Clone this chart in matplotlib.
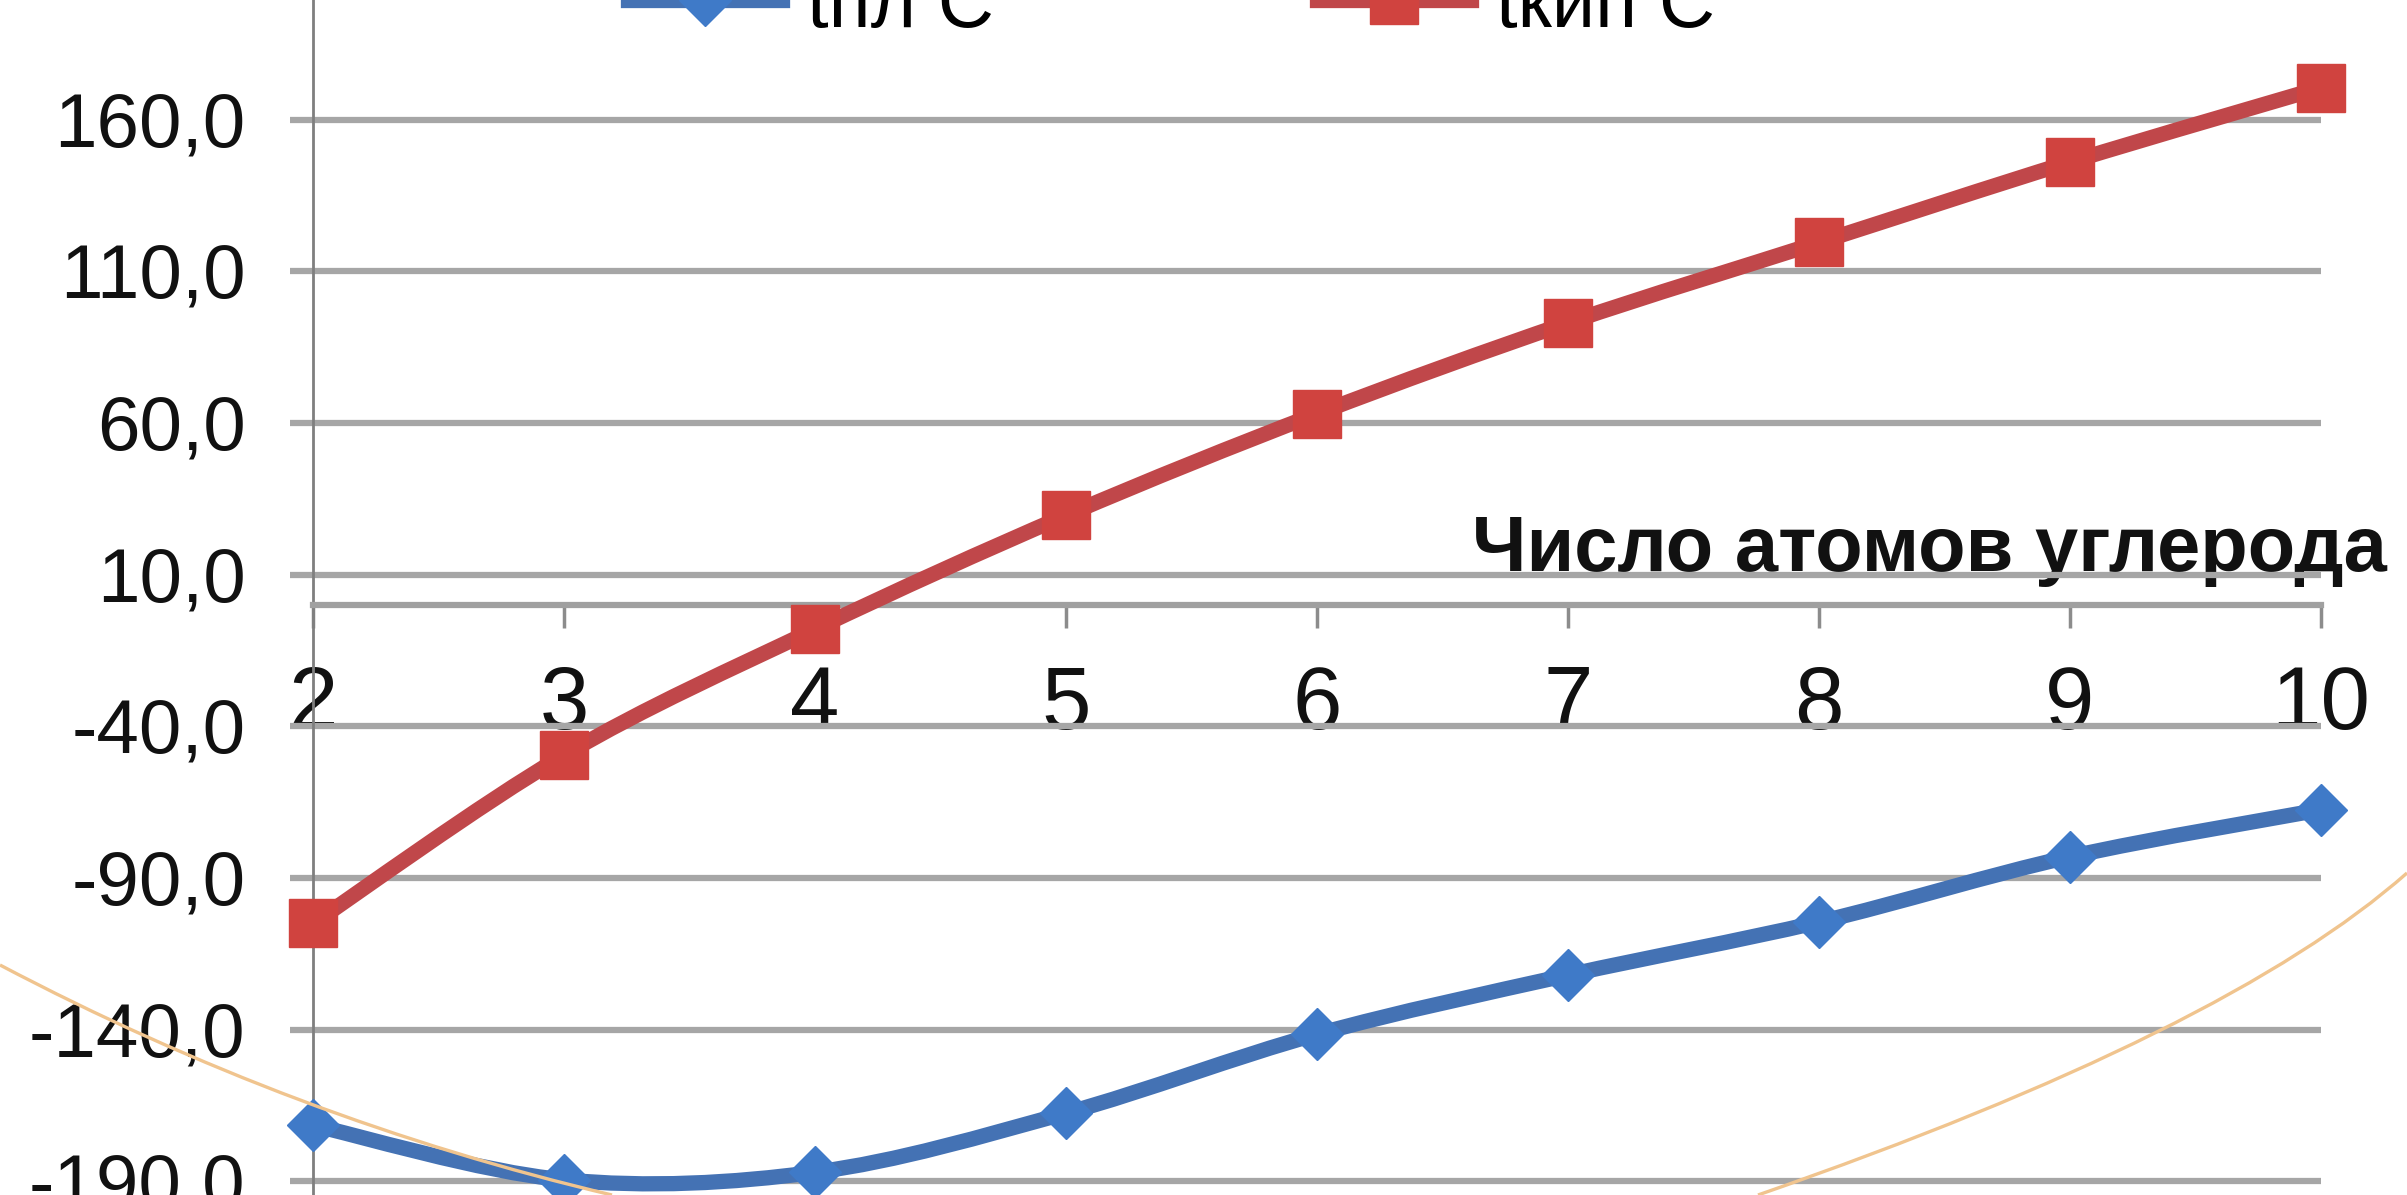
import numpy as np
import matplotlib.pyplot as plt
from matplotlib.path import Path
from matplotlib.patches import PathPatch
from matplotlib.lines import Line2D
from matplotlib.ticker import FixedLocator, FuncFormatter

plt.rcParams['font.family'] = ['Liberation Sans', 'DejaVu Sans']

# число атомов углерода
atoms = [2, 3, 4, 5, 6, 7, 8, 9, 10]
# температура плавления, °C
t_pl = [-171.5, -189.5, -187, -167.5, -141.5, -122, -104.5, -83, -67.5]
# температура кипения, °C
t_kip = [-105, -49.5, -8, 29.5, 63, 93, 119.5, 146, 170.5]

label_pl = 'tпл С'
label_kip = 'tкип С'
x_title = 'Число атомов углерода'
y_ticks = [-190, -140, -90, -40, 10, 60, 110, 160]

W, H = 2407, 1195
blue_line, blue_mark = '#4472B4', '#3F7AC8'
red_line, red_mark = '#C0474A', '#D0433F'
grid_col = '#A6A6A6'
lw_series = 11


def smooth_path(xs, ys):
    # сглаженная линия как в Excel (кривые Безье)
    pts = np.column_stack([xs, ys]).astype(float)
    ext = np.vstack([pts[0], pts, pts[-1]])
    verts = [pts[0]]
    codes = [Path.MOVETO]
    for i in range(len(pts) - 1):
        p0, p1, p2, p3 = ext[i], ext[i + 1], ext[i + 2], ext[i + 3]
        verts += [p1 + (p2 - p0) / 6, p2 - (p3 - p1) / 6, p2]
        codes += [Path.CURVE4] * 3
    return Path(verts, codes)


fig = plt.figure(figsize=(W / 100, H / 100), dpi=100)
ax = fig.add_axes([313 / W, 0, (2321 - 313) / W, 1])
ax.set_xlim(2, 10)
ax.set_ylim(-194.5, 199.4)

for ys, lc, mc, mk, ms in [(t_pl, blue_line, blue_mark, 'D', 26),
                           (t_kip, red_line, red_mark, 's', 35)]:
    ax.add_patch(PathPatch(smooth_path(atoms, ys), fill=False, ec=lc, lw=lw_series,
                           capstyle='round', joinstyle='round', zorder=3))
    ax.plot(atoms, ys, ls='none', marker=mk, ms=ms, mfc=mc, mec=mc, mew=1,
            zorder=4, clip_on=False)

# оси
for s in ['top', 'right']:
    ax.spines[s].set_visible(False)
ax.spines['left'].set_color('#7F7F7F')
ax.spines['left'].set_linewidth(2)
ax.spines['bottom'].set_position(('data', 0))
ax.spines['bottom'].set_color('#A0A0A0')
ax.spines['bottom'].set_linewidth(4.5)

ax.yaxis.set_major_locator(FixedLocator(y_ticks))
ax.yaxis.set_major_formatter(FuncFormatter(lambda v, p: f'{v:.1f}'.replace('.', ',')))
ax.set_xticks(atoms)
ax.set_xticklabels([str(a) for a in atoms])
ax.yaxis.grid(True, color=grid_col, lw=4.5)
ax.set_axisbelow(True)
ax.tick_params(axis='y', direction='out', length=16.5, width=4.5, color=grid_col,
               pad=32, labelsize=55, labelcolor='#111111')
ax.tick_params(axis='x', direction='out', length=16.5, width=2.5, color='#8C8C8C',
               pad=26, labelsize=64, labelcolor='#111111')

ax.set_xlabel(x_title, fontsize=56, fontweight='bold', color='#111111')
ax.xaxis.set_label_coords((2387 - 313) / (2321 - 313), (H - 571) / H)
ax.xaxis.label.set_ha('right')
ax.xaxis.label.set_va('baseline')

handles = [Line2D([], [], color=blue_line, lw=lw_series, marker='D', ms=26, mfc=blue_mark, mec=blue_mark),
           Line2D([], [], color=red_line, lw=lw_series, marker='s', ms=35, mfc=red_mark, mec=red_mark)]
ax.legend(handles, [label_pl, label_kip], ncol=2, frameon=False, fontsize=56,
          loc='lower left', bbox_to_anchor=(628 / W, 1152 / H), bbox_transform=fig.transFigure,
          borderpad=0, borderaxespad=0, handlelength=1.98, handletextpad=0.32,
          columnspacing=4.15)

# декоративные дуги слайда
for p0, m, p2 in [((0, 965), (300, 1100), (612, 1195)),
                  ((1758, 1195), (2155, 1033), (2407, 873))]:
    p0, m, p2 = np.array(p0, float), np.array(m, float), np.array(p2, float)
    c = 2 * m - (p0 + p2) / 2
    pts = np.array([p0, c, p2])
    pts = np.column_stack([pts[:, 0] / W, 1 - pts[:, 1] / H])
    fig.add_artist(PathPatch(Path(pts, [Path.MOVETO, Path.CURVE3, Path.CURVE3]),
                             fill=False, ec='#F0C48E', lw=2.4, transform=fig.transFigure,
                             zorder=10))

fig.savefig('out.png', dpi=100, facecolor='white')
